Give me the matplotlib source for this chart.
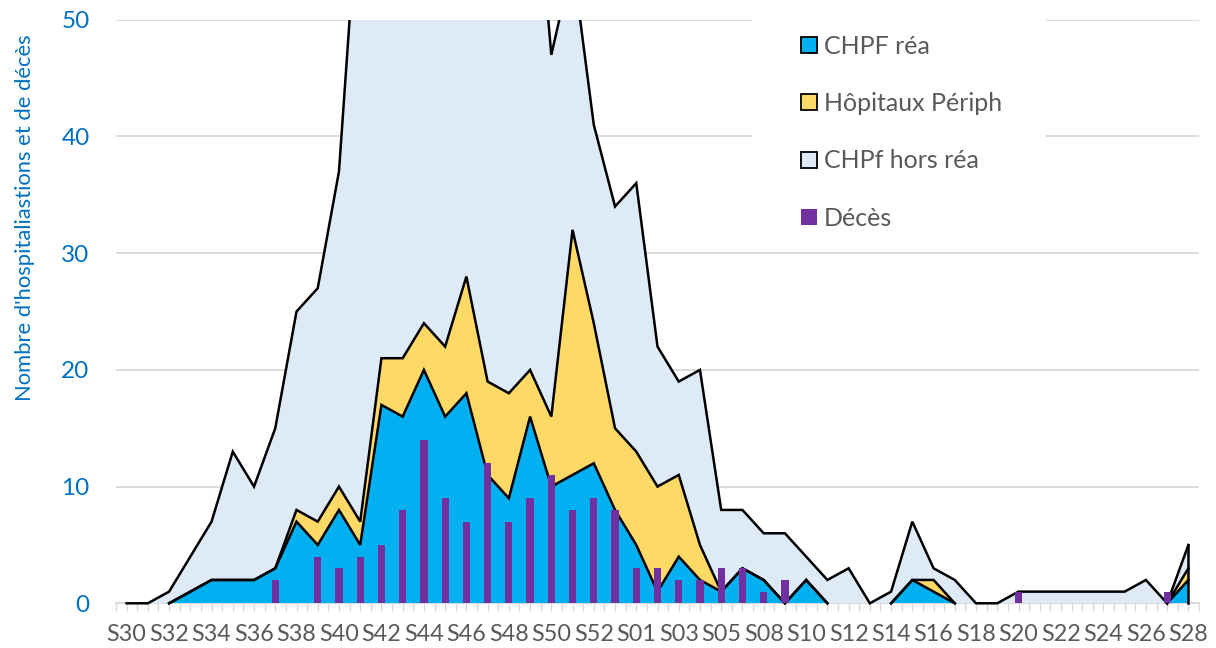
import matplotlib
matplotlib.use("Agg")
import matplotlib.pyplot as plt
from matplotlib.patches import Patch, Rectangle
import numpy as np

plt.rcParams['font.family'] = ['Lato', 'DejaVu Sans']

# ---------------- data ----------------
weeks = ['S30', 'S31', 'S32', 'S33', 'S34', 'S35', 'S36', 'S37', 'S38', 'S39',
         'S40', 'S41', 'S42', 'S43', 'S44', 'S45', 'S46', 'S47', 'S48', 'S49',
         'S50', 'S51', 'S52', 'S53', 'S01', 'S02', 'S03', 'S04', 'S05', 'S06',
         'S08', 'S09', 'S10', 'S11', 'S12', 'S13', 'S14', 'S15', 'S16', 'S17',
         'S18', 'S19', 'S20', 'S21', 'S22', 'S23', 'S24', 'S25', 'S26', 'S27',
         'S28']

chpf_rea = [0, 0, 0, 1, 2, 2, 2, 3, 7, 5,
            8, 5, 17, 16, 20, 16, 18, 11, 9, 16,
            10, 11, 12, 8, 5, 1, 4, 2, 1, 3,
            2, 0, 2, 0, 0, 0, 0, 2, 1, 0,
            0, 0, 0, 0, 0, 0, 0, 0, 0, 0,
            2]

hop_periph = [0, 0, 0, 0, 0, 0, 0, 0, 1, 2,
              2, 2, 4, 5, 4, 6, 10, 8, 9, 4,
              6, 21, 12, 7, 8, 9, 7, 3, 0, 0,
              0, 0, 0, 0, 0, 0, 0, 0, 1, 0,
              0, 0, 0, 0, 0, 0, 0, 0, 0, 0,
              1]

chpf_hors_rea = [0, 0, 1, 3, 5, 11, 8, 12, 17, 20,
                 27, 56, 47, 51, 52, 56, 48, 55, 53, 48,
                 31, 23, 17, 19, 23, 12, 8, 15, 7, 5,
                 4, 6, 2, 2, 3, 0, 1, 5, 1, 2,
                 0, 0, 1, 1, 1, 1, 1, 1, 2, 0,
                 2]

deces = [0, 0, 0, 0, 0, 0, 0, 2, 0, 4,
         3, 4, 5, 8, 14, 9, 7, 12, 7, 9,
         11, 8, 9, 8, 3, 3, 2, 2, 3, 3,
         1, 2, 0, 0, 0, 0, 0, 0, 0, 0,
         0, 0, 1, 0, 0, 0, 0, 0, 0, 1,
         0]

series_names = ['CHPF réa', 'Hôpitaux Périph', 'CHPf hors réa', 'Décès']
y_ticks = [0, 10, 20, 30, 40, 50]

# ---------------- style ----------------
C_REA = '#00B0F0'
C_PER = '#FFD966'
C_HORS = '#DEEBF7'
C_DEC = '#7030A0'
C_GRID = '#D9D9D9'
C_TXT = '#595959'
C_BLUE_TXT = '#0070C0'

W, H = 1216, 648
fig = plt.figure(figsize=(W / 100, H / 100), dpi=100)
ax_l, ax_r, ax_t, ax_b = 116, 1199, 19.8, 603.3
ax = fig.add_axes([ax_l / W, 1 - ax_b / H, (ax_r - ax_l) / W, (ax_b - ax_t) / H])

x = np.arange(len(weeks))
c1 = np.array(chpf_rea, dtype=float)
c2 = c1 + np.array(hop_periph, dtype=float)
c3 = c2 + np.array(chpf_hors_rea, dtype=float)

ax.fill_between(x, 0, c1, facecolor=C_REA, linewidth=0, zorder=1.2)
ax.fill_between(x, c1, c2, facecolor=C_PER, linewidth=0, zorder=1.2)
ax.fill_between(x, c2, c3, facecolor=C_HORS, linewidth=0, zorder=1.2)

clip_rect = Rectangle((0, -0.01), 1, 1.01, transform=ax.transAxes, visible=False)
ax.add_patch(clip_rect)


def draw_outline(y, allow_zero_runs):
    n = len(y)
    runs = []
    cur = [0]
    for i in range(n - 1):
        keep = allow_zero_runs or not (y[i] == 0 and y[i + 1] == 0)
        if keep:
            if cur[-1] != i:
                runs.append(cur)
                cur = [i]
            cur.append(i + 1)
        else:
            runs.append(cur)
            cur = [i + 1]
    runs.append(cur)
    for r in runs:
        if len(r) < 2:
            continue
        ln, = ax.plot(x[r], y[r], color='black', linewidth=1.8,
                      solid_joinstyle='miter', zorder=3)
        ln.set_clip_path(clip_rect)


draw_outline(c1, False)
draw_outline(c2, False)
draw_outline(c3, True)
# right-hand closing edge of the stacked areas
ln, = ax.plot([x[-1], x[-1]], [0, c3[-1]], color='black', linewidth=1.8, zorder=3)
ln.set_clip_path(clip_rect)

ax.bar(x, deces, width=0.34, color=C_DEC, linewidth=0, zorder=4)

# axes
ax.set_xlim(-0.5, len(weeks) - 0.5)
ax.set_ylim(0, 50)
ax.set_axisbelow(True)
ax.set_yticks(y_ticks)
ax.yaxis.grid(True, color=C_GRID, linewidth=1.3)
ax.tick_params(axis='y', length=0, pad=19, labelsize=17.5, labelcolor=C_BLUE_TXT)

ax.set_xticks(x[::2])
ax.set_xticklabels(weeks[::2])
ax.set_xticks(np.arange(-0.5, len(weeks), 0.5), minor=True)
ax.tick_params(axis='x', which='both', length=6, width=1, color=C_GRID,
               labelsize=16.8, labelcolor=C_TXT, pad=9)

for s in ['top', 'right', 'left']:
    ax.spines[s].set_visible(False)
ax.spines['bottom'].set_color(C_GRID)
ax.spines['bottom'].set_linewidth(1.3)
ax.spines['bottom'].set_zorder(0.6)

fig.text(25 / W, 1 - 218 / H, "Nombre d'hospitaliastions et de décès",
         rotation=90, ha='center', va='center', fontsize=15.8, color=C_BLUE_TXT)

# legend background (masks gridlines)
lx0, lx1, ly0, ly1 = 752, 1046, 0, 245
bg = Rectangle(((lx0 - ax_l) / (ax_r - ax_l), (ax_b - ly1) / (ax_b - ax_t)),
               (lx1 - lx0) / (ax_r - ax_l), (ly1 - ly0) / (ax_b - ax_t),
               transform=ax.transAxes, facecolor='white', edgecolor='none',
               zorder=0.9, clip_on=False)
ax.add_patch(bg)

handles = [Patch(facecolor=C_REA, edgecolor='black', linewidth=1.3),
           Patch(facecolor=C_PER, edgecolor='black', linewidth=1.3),
           Patch(facecolor=C_HORS, edgecolor='black', linewidth=1.3),
           Patch(facecolor=C_DEC, edgecolor='none')]
leg = ax.legend(handles, series_names, loc='upper left',
                bbox_to_anchor=(801 / W, 1 - 34.5 / H), bbox_transform=fig.transFigure,
                frameon=False, fontsize=18, labelcolor=C_TXT,
                handlelength=0.62, handleheight=0.62, handletextpad=0.3,
                labelspacing=1.38, borderpad=0, borderaxespad=0)
leg.set_zorder(6)

fig.savefig('out.png', dpi=100)
